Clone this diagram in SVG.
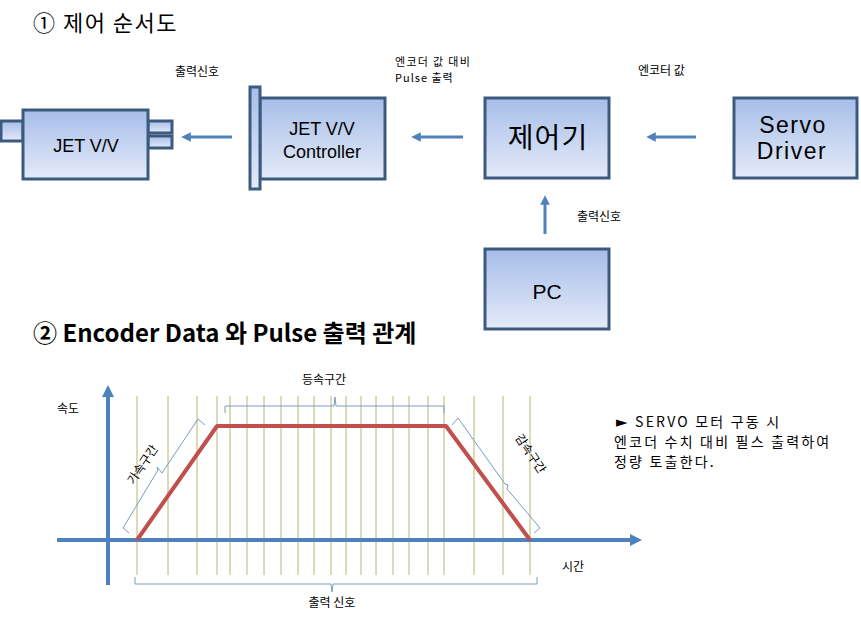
<svg xmlns="http://www.w3.org/2000/svg" width="861" height="617" viewBox="0 0 861 617">
<defs>
<linearGradient id="bg" x1="0" y1="0" x2="0" y2="1">
<stop offset="0" stop-color="#a7bde9"/>
<stop offset="1" stop-color="#e4ebf8"/>
</linearGradient>
<marker id="ah" viewBox="0 0 10 10" refX="5" refY="5" markerWidth="3.2" markerHeight="3.2" orient="auto-start-reverse">
<path d="M0,0 L10,5 L0,10 z" fill="#4f81bd"/>
</marker>
<marker id="ah2" viewBox="0 0 10 10" refX="5" refY="5" markerWidth="3" markerHeight="3" orient="auto">
<path d="M0,0 L10,5 L0,10 z" fill="#4f81bd"/>
</marker>
</defs>
<style>
.box{fill:url(#bg);stroke:#3c5a80;stroke-width:3}
.t{font-family:"Liberation Sans","Noto Sans CJK KR",sans-serif;fill:#000}
.k{font-family:"Noto Sans CJK KR","Liberation Sans",sans-serif;fill:#000}
.lbl{font-size:12px}
.bt{text-anchor:middle}
.conn{stroke:#4f81bd;stroke-width:3;fill:none;marker-end:url(#ah)}
.grid{stroke:#b8b670;stroke-width:1}
.brk{stroke:#7a9cc0;stroke-width:1;fill:none}
</style>

<text class="k" x="33" y="31" font-size="22" letter-spacing="1.5">① 제어 순서도</text>

<g id="jetvv">
<rect class="box" x="1" y="121" width="22" height="20"/>
<rect class="box" x="148" y="121" width="24" height="12"/>
<rect class="box" x="148" y="136" width="24" height="12"/>
<rect class="box" x="23" y="110" width="125" height="69"/>
<text class="t bt" x="86" y="152" font-size="18">JET V/V</text>
</g>

<g id="controller">
<rect class="box" x="260" y="98" width="125" height="81"/>
<rect class="box" x="250" y="87" width="10" height="102"/>
<text class="t bt" x="322" y="135" font-size="18">JET V/V</text>
<text class="t bt" x="322" y="158" font-size="18">Controller</text>
</g>

<g id="jeeogi">
<rect class="box" x="485" y="98" width="124" height="80"/>
<text class="k bt" x="548" y="148" font-size="28" letter-spacing="1">제어기</text>
</g>

<g id="servo">
<rect class="box" x="734" y="98" width="123" height="80"/>
<text class="t bt" x="793" y="133" font-size="23" letter-spacing="1.5">Servo</text>
<text class="t bt" x="792" y="159" font-size="23" letter-spacing="1.5">Driver</text>
</g>

<g id="pc">
<rect class="box" x="485" y="249" width="124" height="80"/>
<text class="t bt" x="547" y="299" font-size="21">PC</text>
</g>

<g id="connectors">
<line class="conn" x1="232" y1="137" x2="186" y2="137"/>
<line class="conn" x1="463" y1="137" x2="416" y2="137"/>
<line class="conn" x1="696" y1="137" x2="651" y2="137"/>
<line class="conn" x1="545" y1="234" x2="545" y2="200"/>
</g>

<g id="labels">
<text class="k lbl" x="175" y="76">출력신호</text>
<text class="k" font-size="11" letter-spacing="1.3" x="395" y="66">엔코더 값 대비</text>
<text class="k" font-size="11" letter-spacing="1" x="395" y="82">Pulse 출력</text>
<text class="k lbl" x="638" y="75">엔코터 값</text>
<text class="k lbl" x="577" y="221">출력신호</text>
</g>

<text class="k" x="33" y="342" font-size="24" font-weight="bold">② Encoder Data 와 Pulse 출력 관계</text>

<g id="chart">
<g class="grid">
<line x1="137" y1="396" x2="137" y2="575"/>
<line x1="168" y1="396" x2="168" y2="575"/>
<line x1="197" y1="396" x2="197" y2="575"/>
<line x1="217" y1="396" x2="217" y2="575"/>
<line x1="230" y1="396" x2="230" y2="575"/>
<line x1="247" y1="396" x2="247" y2="575"/>
<line x1="264" y1="396" x2="264" y2="575"/>
<line x1="281" y1="396" x2="281" y2="575"/>
<line x1="298" y1="396" x2="298" y2="575"/>
<line x1="314" y1="396" x2="314" y2="575"/>
<line x1="331" y1="396" x2="331" y2="575"/>
<line x1="346" y1="396" x2="346" y2="575"/>
<line x1="361" y1="396" x2="361" y2="575"/>
<line x1="376" y1="396" x2="376" y2="575"/>
<line x1="393" y1="396" x2="393" y2="575"/>
<line x1="409" y1="396" x2="409" y2="575"/>
<line x1="428" y1="396" x2="428" y2="575"/>
<line x1="444" y1="396" x2="444" y2="575"/>
<line x1="474" y1="396" x2="474" y2="575"/>
<line x1="503" y1="396" x2="503" y2="575"/>
<line x1="530" y1="396" x2="530" y2="575"/>
</g>
<line x1="57" y1="540" x2="636" y2="540" stroke="#4f81bd" stroke-width="4" marker-end="url(#ah2)"/>
<line x1="108" y1="585" x2="108" y2="391" stroke="#4f81bd" stroke-width="4" marker-end="url(#ah2)"/>
<polyline points="137,540 217,426 446,426 530,540" fill="none" stroke="#c0504d" stroke-width="4" stroke-linejoin="round"/>

<path class="brk" d="M225,413 L225,406 L334,406 L335,397 L336,406 L444,406 L444,413"/>
<path class="brk" d="M135,577 L135,584 L331,584 L332,592 L333,584 L537,584 L537,577"/>
<path class="brk" d="M129,533 L123,528 L158,470 L157,467 L162,473 L198,419 L205,425"/>
<path class="brk" d="M452,425 L458,418 L505,484 L508,485 L507,489 L540,528 L534,533"/>

<text class="k lbl" x="324" y="384" text-anchor="middle">등속구간</text>
<text class="k lbl" x="332" y="607" text-anchor="middle">출력 신호</text>
<text class="k lbl" x="0" y="0" text-anchor="middle" transform="translate(146,467) rotate(-56)">가속구간</text>
<text class="k lbl" x="0" y="0" text-anchor="middle" transform="translate(527,456) rotate(56)">감속구간</text>
<text class="k lbl" x="57" y="413">속도</text>
<text class="k lbl" x="562" y="571">시간</text>
</g>

<g id="note" class="k" font-size="14" letter-spacing="2.2">
<text x="616" y="427"><tspan font-family="DejaVu Sans" font-size="15">►</tspan> SERVO 모터 구동 시</text>
<text x="614" y="447">엔코더 수치 대비 필스 출력하여</text>
<text x="614" y="467">정량 토출한다.</text>
</g>
</svg>
